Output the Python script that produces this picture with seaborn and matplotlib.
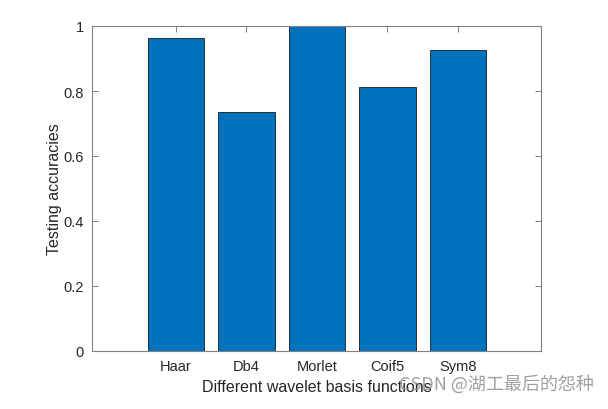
import matplotlib
matplotlib.use("Agg")
import matplotlib.pyplot as plt
import pandas as pd
import seaborn as sns

# Testing accuracy for each wavelet basis function
wavelets = ["Haar", "Db4", "Morlet", "Coif5", "Sym8"]
accuracies = [0.963, 0.735, 1.0, 0.812, 0.926]
y_ticks = [0, 0.2, 0.4, 0.6, 0.8, 1]
y_tick_labels = ["0", "0.2", "0.4", "0.6", "0.8", "1"]

df = pd.DataFrame({"wavelet": wavelets, "accuracy": accuracies})

sns.set_style("white")
plt.rcParams["font.family"] = ["Liberation Sans", "DejaVu Sans"]

fig = plt.figure(figsize=(6.08, 4.1), dpi=100)
ax = fig.add_axes([92 / 608, 1 - 352 / 410, (541 - 92) / 608, (352 - 27) / 410])

sns.barplot(x="wavelet", y="accuracy", data=df, color="#0072BD", saturation=1,
            width=0.8, edgecolor="#1a1a1a", linewidth=0.6, ax=ax)

ax.set_xlim(-1.19, 5.18)
ax.set_ylim(0, 1)
ax.set_yticks(y_ticks)
ax.set_yticklabels(y_tick_labels)

axis_color = "#808080"
for side in ["left", "right", "top", "bottom"]:
    ax.spines[side].set_visible(True)
    ax.spines[side].set_color(axis_color)
    ax.spines[side].set_linewidth(0.8)

ax.tick_params(direction="in", length=4, width=0.7, color=axis_color,
               labelsize=10.5, labelcolor="#262626", top=True, right=True,
               bottom=True, left=True, pad=6)

ax.set_xlabel("Different wavelet basis functions", fontsize=11.5, color="#262626", labelpad=4)
ax.set_ylabel("Testing accuracies", fontsize=11.5, color="#262626", labelpad=1)

# watermark
fig.text(0.977, 0.04, "CSDN @湖工最后的怨种", ha="right", va="bottom", fontsize=13,
         color="#909090", alpha=0.85,
         family=["Noto Sans CJK SC", "DejaVu Sans"])

fig.savefig("out.png", dpi=100)
